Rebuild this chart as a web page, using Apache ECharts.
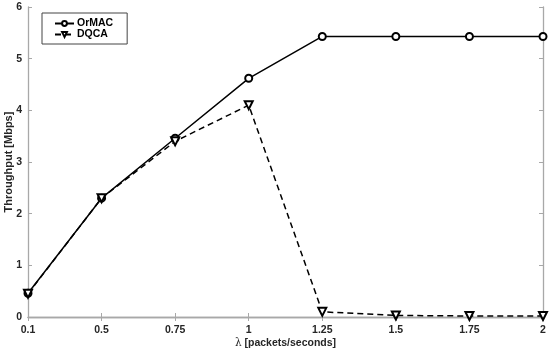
<!DOCTYPE html>
<html><head><meta charset="utf-8">
<script src="https://cdn.jsdelivr.net/npm/echarts@6/dist/echarts.min.js"></script>
<style>html,body{margin:0;padding:0;background:#fff}#c{width:550px;height:354px}</style>
</head><body><div id="c"></div>
<script>
const categories = ['0.1','0.5','0.75','1','1.25','1.5','1.75','2'];
const ormac = [0.46, 2.30, 3.46, 4.62, 5.43, 5.43, 5.43, 5.43];
const dqca  = [0.45, 2.30, 3.40, 4.10, 0.10, 0.03, 0.02, 0.02];
const yTicks = [0,1,2,3,4,5,6];

const axisCol = '#a8a8a8';
const lab = {color:'#262626', fontFamily:'Liberation Sans, Arial', fontWeight:'bold', fontSize:10.5};
const chart = echarts.init(document.getElementById('c'));
chart.setOption({
  animation:false,
  backgroundColor:'#fff',
  grid:{left:28,right:7,top:7,bottom:37,outerBoundsMode:'none',containLabel:false},
  legend:{
    left:42, top:13, orient:'vertical', itemGap:0, itemWidth:19, itemHeight:6,
    padding:[5,14,4,12], borderColor:'#444', borderWidth:1, backgroundColor:'#fff',
    textStyle:{...lab, color:'#000', fontSize:10.5, lineHeight:10, padding:[0,0,0,-2]},
    data:['OrMAC','DQCA']
  },
  xAxis:[{
    type:'category', data:categories, boundaryGap:false,
    axisLine:{lineStyle:{color:axisCol,width:1.3}},
    axisTick:{inside:true,length:4,lineStyle:{color:axisCol}},
    axisLabel:{...lab, margin:8},
    splitLine:{show:false},
    name:'{l|λ} [packets/seconds]', nameLocation:'middle', nameGap:21, nameMoveOverlap:false,
    nameTextStyle:{...lab, rich:{l:{fontFamily:'DejaVu Serif, serif', fontWeight:'normal', fontSize:10.5, color:'#262626'}}}
  },{
    type:'category', data:categories, boundaryGap:false, position:'top',
    axisLine:{lineStyle:{color:axisCol,width:1.3}},
    axisTick:{inside:true,length:4,lineStyle:{color:axisCol}},
    axisLabel:{show:false}
  }],
  yAxis:[{
    type:'value', min:0, max:6, interval:1,
    axisLine:{show:true,lineStyle:{color:axisCol,width:1.3}},
    axisTick:{show:true,inside:true,length:4,lineStyle:{color:axisCol}},
    axisLabel:{...lab, margin:6},
    splitLine:{show:false},
    name:'Throughput [Mbps]', nameLocation:'middle', nameGap:14, nameMoveOverlap:false,
    nameTextStyle:{...lab, fontSize:11}
  },{
    type:'value', min:0, max:6, interval:1, position:'right',
    axisLine:{show:true,lineStyle:{color:axisCol,width:1.3}},
    axisTick:{show:true,inside:true,length:4,lineStyle:{color:axisCol}},
    axisLabel:{show:false}, splitLine:{show:false}
  }],
  series:[{
    name:'OrMAC', type:'line', data:ormac,
    symbol:'emptyCircle', symbolSize:7,
    lineStyle:{color:'#000',width:1.5},
    itemStyle:{color:'#000',borderWidth:1.5}
  },{
    name:'DQCA', type:'line', data:dqca,
    symbol:'emptyTriangle', symbolSize:8, symbolRotate:180,
    lineStyle:{color:'#000',width:1.5,type:[6,4]},
    itemStyle:{color:'#000',borderWidth:1.5}
  }]
});
</script></body></html>
